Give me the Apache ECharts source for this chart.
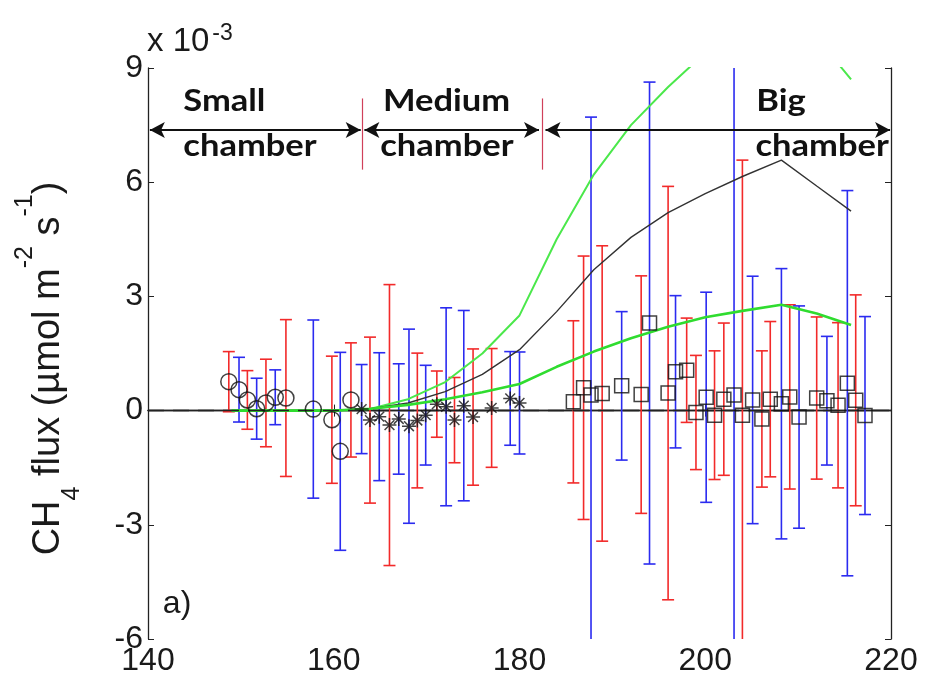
<!DOCTYPE html>
<html>
<head>
<meta charset="utf-8">
<script src="https://cdn.jsdelivr.net/npm/echarts@6/dist/echarts.min.js"></script>
<style>
  html, body { margin: 0; padding: 0; background: #fff; }
  #chart { width: 929px; height: 689px; }
</style>
</head>
<body>
<div id="chart"></div>
<script>
// [day, flux (x1e-3), half error] -- split by error bar colour
var smallRed = [[148.7, 0.76, 0.79], [150.7, 0.28, 0.77], [152.7, 0.2, 1.15], [154.85, 0.33, 2.06], [159.8, -0.24, 1.67], [161.85, 0.28, 1.5]];
var smallBlue = [[149.8, 0.55, 0.85], [151.7, 0.05, 0.8], [153.7, 0.35, 0.72], [157.8, 0.04, 2.34], [160.7, -1.07, 2.6]];
var medRed = [[163.9, -0.25, 2.18], [166.0, -0.38, 3.69], [169.0, -0.26, 1.77], [171.1, 0.17, 0.87], [173.0, -0.25, 1.12], [175.0, -0.17, 1.79], [177.0, 0.07, 1.56]];
var medBlue = [[163.0, 0.04, 1.17], [164.9, -0.16, 1.68], [167.0, -0.22, 1.45], [168.1, -0.41, 2.55], [169.9, -0.12, 1.31], [172.1, 0.1, 2.6], [174.0, 0.13, 2.5], [179.0, 0.32, 1.23], [180.0, 0.2, 1.34]];
var bigRed = [[185.8, 0.23, 2.13], [186.9, 0.6, 3.46], [188.9, 0.45, 3.88], [193.1, 0.42, 3.12], [196.0, 0.46, 5.43], [198.0, 1.06, 1.37], [199.0, -0.05, 1.5], [201.0, -0.12, 1.69], [202.0, 0.3, 2.0], [204.0, -0.12, 6.7], [206.1, -0.22, 1.79], [207.0, 0.3, 2.04], [209.1, 0.36, 2.42], [212.0, 0.33, 2.13], [214.3, 0.14, 2.17], [216.2, 0.27, 2.77]];
var bigBlue = [[187.7, 0.41, 7.3], [191.0, 0.65, 1.95], [194.0, 2.3, 6.33], [196.8, 1.02, 2.0], [200.1, 0.35, 2.76], [203.1, 0.41, 11], [205.1, 0.28, 3.25], [208.2, 0.18, 3.55], [210.1, -0.17, 2.92], [213.1, 0.26, 1.69], [215.3, 0.72, 5.06], [217.2, -0.13, 2.6]];

var lineX = [149, 160, 164, 168, 172, 176, 180, 184, 188, 192, 196, 200, 204, 208.2, 212, 215.7];
var lowerGreen = [0, 0, 0.05, 0.15, 0.3, 0.48, 0.7, 1.15, 1.55, 1.9, 2.2, 2.45, 2.62, 2.78, 2.55, 2.25];
var blackLine = [0, 0, 0.05, 0.2, 0.5, 0.95, 1.6, 2.6, 3.7, 4.55, 5.2, 5.7, 6.15, 6.58, 5.9, 5.24];
var upperGreen = [0, 0, 0.05, 0.3, 0.75, 1.5, 2.5, 4.5, 6.2, 7.5, 8.5, 9.4, 10.2, 10.9, 9.8, 8.7];

// chamber ranges [from, to] and label positions
var chambers = [
  { name: ["Small", "chamber"], from: 140.2, to: 162.9, labelX: [143.8, 143.8] },
  { name: ["Medium", "chamber"], from: 163.3, to: 182.1, labelX: [165.3, 165.0] },
  { name: ["Big", "chamber"], from: 182.8, to: 219.9, labelX: [205.5, 205.4] }
];
var dividers = [163.1, 182.4];
var arrowY = 7.37;

var RED = "#f22a2a", BLUE = "#2b2bf0";

function errData(list) {
  return list.map(function (d) { return [d[0], d[1] - d[2], d[1] + d[2]]; });
}
function ptData(list) {
  return list.map(function (d) { return [d[0], d[1]]; });
}
function zipLine(ys) {
  return lineX.map(function (x, i) { return [x, ys[i]]; });
}

function errRender(color) {
  return function (params, api) {
    var x = api.value(0);
    var pHi = api.coord([x, api.value(2)]);
    var pLo = api.coord([x, api.value(1)]);
    var cs = params.coordSys;
    var top = cs.y, bot = cs.y + cs.height;
    var y1 = Math.max(pHi[1], top), y2 = Math.min(pLo[1], bot);
    var st = { stroke: color, lineWidth: 1.6 };
    var kids = [{ type: "line", shape: { x1: pHi[0], y1: y1, x2: pHi[0], y2: y2 }, style: st }];
    if (pHi[1] >= top) kids.push({ type: "line", shape: { x1: pHi[0] - 6, y1: pHi[1], x2: pHi[0] + 6, y2: pHi[1] }, style: st });
    if (pLo[1] <= bot) kids.push({ type: "line", shape: { x1: pLo[0] - 6, y1: pLo[1], x2: pLo[0] + 6, y2: pLo[1] }, style: st });
    return { type: "group", children: kids };
  };
}

function errSeries(list, color) {
  return {
    type: "custom",
    renderItem: errRender(color),
    data: errData(list),
    encode: { x: 0, y: [1, 2] },
    silent: true,
    z: 2
  };
}

var starPath = "path://M0,-10L0,10M-10,0L10,0M-7,-7L7,7M-7,7L7,-7";

function markerSeries(list, symbol, size) {
  return {
    type: "scatter",
    data: ptData(list),
    symbol: symbol,
    symbolSize: size,
    itemStyle: { color: "rgba(0,0,0,0)", borderColor: "#111", borderWidth: 1.5 },
    silent: true,
    z: 5
  };
}

var arrowLines = chambers.map(function (c) {
  return [{ coord: [c.from, arrowY] }, { coord: [c.to, arrowY] }];
});
var dividerLines = dividers.map(function (d) {
  return [{ coord: [d, 8.2], lineStyle: { color: "#d0405a", width: 1.2, type: "solid" }, symbol: "none" },
          { coord: [d, 6.33], symbol: "none" }];
});

var chart = echarts.init(document.getElementById("chart"));

var FONT = "Liberation Sans, Arial, sans-serif";
var axisFont = { fontFamily: FONT, fontSize: 32, color: "#1a1a1a" };

var option = {
  animation: false,
  grid: { left: 148, right: 38, top: 68, bottom: 50 },
  xAxis: [
    {
      type: "value", min: 140, max: 220, interval: 20,
      axisLine: { lineStyle: { color: "#222", width: 1.3 } },
      axisTick: { inside: true, length: 6, lineStyle: { color: "#222" } },
      axisLabel: Object.assign({ margin: 6 }, axisFont),
      splitLine: { show: false }
    },
    {
      type: "value", min: 140, max: 220, interval: 20, position: "top",
      axisLine: { lineStyle: { color: "#222", width: 1.3 } },
      axisTick: { inside: true, length: 6, lineStyle: { color: "#222" } },
      axisLabel: { show: false },
      splitLine: { show: false }
    }
  ],
  yAxis: [
    {
      type: "value", min: -6, max: 9, interval: 3,
      axisLine: { show: true, lineStyle: { color: "#222", width: 1.3 } },
      axisTick: { show: true, inside: true, length: 6, lineStyle: { color: "#222" } },
      axisLabel: Object.assign({ margin: 5 }, axisFont),
      splitLine: { show: false },
      name: "CH{sub|4} flux (\u00b5mol m{sup|-2} s{sup|-1})",
      nameLocation: "middle",
      nameRotate: 90,
      nameGap: 80,
      nameTextStyle: {
        fontFamily: FONT, fontSize: 38, color: "#1a1a1a",
        padding: [0, 30, 0, 0],
        rich: {
          sub: { fontSize: 25, verticalAlign: "bottom", padding: [0, 0, -17, 0], fontFamily: FONT },
          sup: { fontSize: 25, verticalAlign: "top", padding: [-17, 0, 0, 0], fontFamily: FONT }
        }
      }
    },
    {
      type: "value", min: -6, max: 9, interval: 3, position: "right",
      axisLine: { show: true, lineStyle: { color: "#222", width: 1.3 } },
      axisTick: { show: true, inside: true, length: 6, lineStyle: { color: "#222" } },
      axisLabel: { show: false },
      splitLine: { show: false }
    }
  ],
  series: [
    {
      type: "line", data: [], silent: true,
      markLine: {
        silent: true, symbol: "none", animation: false,
        label: { show: false },
        lineStyle: { color: "#222", width: 1.4, type: [16, 9] },
        data: [{ yAxis: 0 }]
      }
    },
    errSeries(smallRed, RED), errSeries(smallBlue, BLUE),
    errSeries(medRed, RED), errSeries(medBlue, BLUE),
    errSeries(bigRed, RED), errSeries(bigBlue, BLUE),
    { type: "line", data: zipLine(upperGreen), showSymbol: false, silent: true, z: 3,
      lineStyle: { color: "#4be84b", width: 2 } },
    { type: "line", data: zipLine(blackLine), showSymbol: false, silent: true, z: 3,
      lineStyle: { color: "#333", width: 1.4 } },
    { type: "line", data: zipLine(lowerGreen), showSymbol: false, silent: true, z: 3,
      lineStyle: { color: "#2fdc2f", width: 2.6 } },
    markerSeries(smallRed, "circle", 16), markerSeries(smallBlue, "circle", 16),
    markerSeries(medRed, starPath, 14), markerSeries(medBlue, starPath, 14),
    markerSeries(bigRed, "rect", 14), markerSeries(bigBlue, "rect", 14),
    {
      type: "line", data: [], silent: true,
      markLine: {
        silent: true, animation: false,
        symbol: ["arrow", "arrow"], symbolSize: [12, 15],
        label: { show: false },
        lineStyle: { color: "#111", width: 2, type: "solid" },
        data: arrowLines.concat(dividerLines)
      }
    }
  ]
};

chart.setOption(option);

// text annotations placed in data coordinates
var labelFont = "bold 30px Lato, 'Open Sans', sans-serif";
var graphics = [];
chambers.forEach(function (c) {
  var p1 = chart.convertToPixel({ gridIndex: 0 }, [c.labelX[0], 8.02]);
  var p2 = chart.convertToPixel({ gridIndex: 0 }, [c.labelX[1], 6.84]);
  graphics.push({ type: "text", left: p1[0], top: p1[1] - 19, z: 10, scaleX: 1.15,
    style: { text: c.name[0], font: labelFont, fill: "#111" } });
  graphics.push({ type: "text", left: p2[0], top: p2[1] - 19, z: 10, scaleX: 1.15,
    style: { text: c.name[1], font: labelFont, fill: "#111" } });
});
var pa = chart.convertToPixel({ gridIndex: 0 }, [141.6, -5.15]);
graphics.push({ type: "text", left: pa[0], top: pa[1] - 18, z: 10,
  style: { text: "a)", font: "32px 'Liberation Sans', Arial, sans-serif", fill: "#1a1a1a" } });
graphics.push({ type: "text", left: 147, top: 22, z: 10,
  style: {
    text: "{a|x 10}{b|-3}",
    rich: {
      a: { fontSize: 33, fontFamily: FONT, fill: "#1a1a1a" },
      b: { fontSize: 23, fontFamily: FONT, fill: "#1a1a1a", verticalAlign: "top", padding: [0, 0, 16, 3] }
    }
  } });
chart.setOption({ graphic: graphics });

window.addEventListener("resize", function () {
  chart.resize();
});
</script>
</body>
</html>
